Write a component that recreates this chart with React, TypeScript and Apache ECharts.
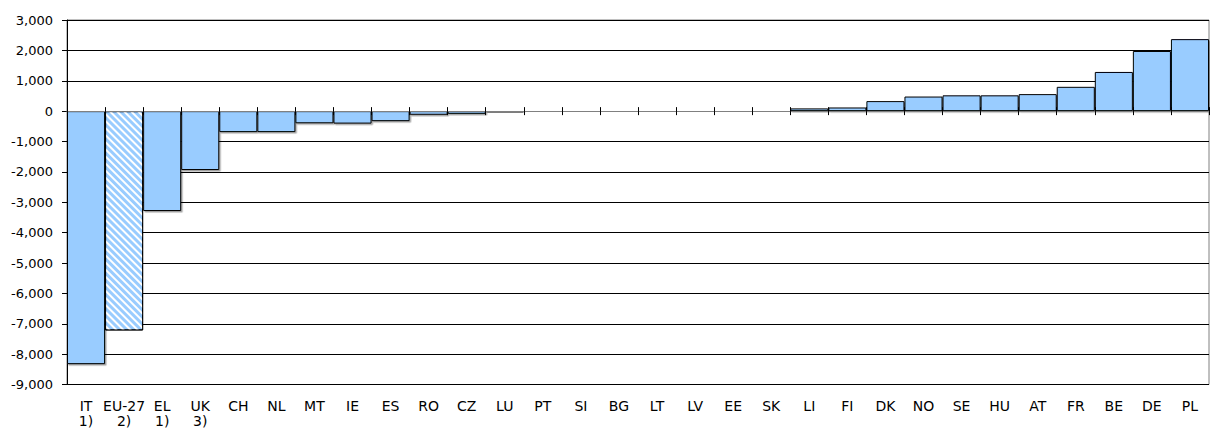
import React, { useEffect, useRef } from "react";
import * as echarts from "echarts";

const countries = ["IT", "EU-27", "EL", "UK", "CH", "NL", "MT", "IE", "ES", "RO", "CZ", "LU", "PT", "SI", "BG", "LT", "LV", "EE", "SK", "LI", "FI", "DK", "NO", "SE", "HU", "AT", "FR", "BE", "DE", "PL"];
const footnotes = ["1)", "2)", "1)", "3)", "", "", "", "", "", "", "", "", "", "", "", "", "", "", "", "", "", "", "", "", "", "", "", "", "", ""];
const values = [-8330, -7220, -3290, -1940, -690, -690, -400, -410, -330, -120, -90, -40, -30, 0, 0, 0, 0, 0, 0, 90, 120, 330, 480, 520, 520, 560, 800, 1290, 1980, 2370];
const hatched = ["EU-27"];
const yTicks = { min: -9000, max: 3000, interval: 1000 };

const FONT = "'DejaVu Sans', sans-serif";

export default function App() {
  const ref = useRef<HTMLDivElement>(null);
  useEffect(() => {
    if (!ref.current) return;
    const chart = echarts.init(ref.current, undefined, { renderer: "svg" });
    const labels = countries.map((c, i) => (footnotes[i] ? c + "\n" + footnotes[i] : c));
    const data = values.map((v, i) => {
      if (hatched.includes(countries[i])) {
        return {
          value: v,
          itemStyle: {
            color: "#99CCFF",
            shadowColor: "rgba(0,0,0,0)",
            shadowOffsetX: 0,
            shadowOffsetY: 0,
            shadowBlur: 0,
            decal: {
              symbol: "rect",
              color: "#ffffff",
              dashArrayX: [1, 0],
              dashArrayY: [2, 2.2],
              rotation: Math.PI / 4,
            },
          },
        };
      }
      if (v === 0) {
        return { value: v, itemStyle: { borderWidth: 0 } };
      }
      return v;
    });
    const baseX = {
      type: "category" as const,
      data: labels,
      boundaryGap: true,
    };
    chart.setOption({
      animation: false,
      aria: { enabled: false, decal: { show: true } },
      grid: {
        left: 67,
        right: 1,
        top: 20,
        bottom: 49.5,
        show: true,
        borderColor: "#808080",
        borderWidth: 1,
        containLabel: false,
      },
      xAxis: [
        {
          ...baseX,
          position: "bottom",
          axisLine: { show: false, onZero: false },
          axisTick: { show: false },
          axisLabel: {
            interval: 0,
            color: "#000",
            fontFamily: FONT,
            fontSize: 14,
            lineHeight: 15,
            margin: 14,
            verticalAlign: "top",
          },
        },
        {
          ...baseX,
          position: "bottom",
          z: 5,
          axisLine: { show: true, onZero: true, onZeroAxisIndex: 0, lineStyle: { color: "#808080", width: 1 } },
          axisTick: { show: true, inside: true, length: 4, interval: 0, lineStyle: { color: "#000" } },
          axisLabel: { show: false },
        },
        {
          ...baseX,
          position: "bottom",
          z: 5,
          axisLine: { show: false, onZero: true, onZeroAxisIndex: 0 },
          axisTick: { show: true, inside: false, length: 4, interval: 0, lineStyle: { color: "#000" } },
          axisLabel: { show: false },
        },
      ],
      yAxis: {
        type: "value",
        min: yTicks.min,
        max: yTicks.max,
        interval: yTicks.interval,
        axisLine: { show: true, lineStyle: { color: "#000" } },
        axisTick: { show: true, length: 5, lineStyle: { color: "#000" } },
        splitLine: { show: true, lineStyle: { color: "#000", width: 1 } },
        axisLabel: {
          color: "#000",
          fontFamily: FONT,
          fontSize: 13,
          margin: 14,
          formatter: (v: number) => v.toLocaleString("en-US"),
        },
      },
      series: [
        {
          type: "bar",
          xAxisIndex: 0,
          data,
          barWidth: "100%",
          barCategoryGap: "0%",
          itemStyle: {
            color: "#99CCFF",
            borderColor: "#000",
            borderWidth: 1,
            shadowColor: "rgba(0,0,0,0.35)",
            shadowOffsetX: 1.5,
            shadowOffsetY: 1.5,
            shadowBlur: 0.5,
          },
          z: 3,
        },
      ],
    });
    return () => chart.dispose();
  }, []);
  return (
    <div
      ref={ref}
      style={{ position: "absolute", left: 0, top: 0, width: 1210, height: 434, background: "#fff" }}
    />
  );
}
